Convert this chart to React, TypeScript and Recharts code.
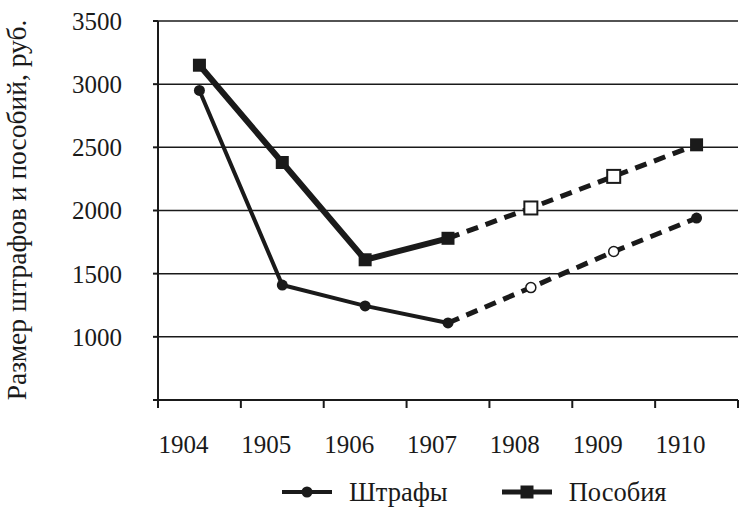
import { LineChart, Line, XAxis, YAxis, CartesianGrid, Label } from "recharts";

const years = ["1904", "1905", "1906", "1907", "1908", "1909", "1910"];
const fines = [2950, 1410, 1245, 1110, 1390, 1675, 1940];
const benefits = [3150, 2380, 1610, 1780, 2020, 2270, 2520];
// 1907 is the last reported year, later years are drawn dashed
const lastActual = 3;
const hollowPoint = [false, false, false, false, true, true, false];
const yTicks = [500, 1000, 1500, 2000, 2500, 3000, 3500];

const W = 740;
const H = 507;
const M = { top: 21, right: 2, left: 0, bottom: 47 };
const Y_W = 158;
const BAND = (W - M.left - M.right - Y_W) / years.length;
const INK = "#1a1a1a";
const FONT = "'Liberation Serif', 'Times New Roman', serif";

const data = years.map((year, i) => ({
  year,
  finesA: i <= lastActual ? fines[i] : null,
  finesB: i >= lastActual ? fines[i] : null,
  benA: i <= lastActual ? benefits[i] : null,
  benB: i >= lastActual ? benefits[i] : null,
}));

function marker(kind: "circle" | "square", cx: number, cy: number, hollow: boolean, key: string) {
  if (kind === "circle") {
    return hollow ? (
      <circle key={key} cx={cx} cy={cy} r={5} fill="#fff" stroke={INK} strokeWidth={1.5} />
    ) : (
      <circle key={key} cx={cx} cy={cy} r={5.5} fill={INK} />
    );
  }
  return hollow ? (
    <rect key={key} x={cx - 6.5} y={cy - 6.5} width={13} height={13} fill="#fff" stroke={INK} strokeWidth={2} />
  ) : (
    <rect key={key} x={cx - 6.5} y={cy - 6.5} width={13} height={13} fill={INK} />
  );
}

const dotFor = (kind: "circle" | "square", dashed: boolean) => (props: any) => {
  const { cx, cy, index, value } = props;
  const key = `${kind}-${dashed}-${index}`;
  if (value == null || cx == null || (dashed && index === lastActual)) return <g key={key} />;
  return marker(kind, cx, cy, hollowPoint[index], key);
};

const XTick = (props: any) => {
  const { x, y, payload, index } = props;
  const left = x - BAND / 2;
  return (
    <g>
      <line x1={left} y1={y - 8} x2={left} y2={y} stroke={INK} strokeWidth={2} />
      {index === years.length - 1 && (
        <line x1={left + BAND} y1={y - 8} x2={left + BAND} y2={y} stroke={INK} strokeWidth={2} />
      )}
      <text x={x - 16} y={y + 27} dy="0.71em" textAnchor="middle" fontSize={25} fill={INK} fontFamily={FONT}>
        {payload.value}
      </text>
    </g>
  );
};

function LegendItem({ kind, label }: { kind: "circle" | "square"; label: string }) {
  return (
    <div style={{ display: "flex", alignItems: "center" }}>
      <svg width={50} height={16} style={{ marginRight: 17 }}>
        <line x1={0} y1={8} x2={50} y2={8} stroke={INK} strokeWidth={kind === "circle" ? 4 : 5} />
        {marker(kind, 25, 8, false, "m")}
      </svg>
      <span>{label}</span>
    </div>
  );
}

export default function App() {
  return (
    <div style={{ position: "absolute", left: 0, top: 0, width: W, height: H, background: "#fff" }}>
      <LineChart width={W} height={H} data={data} margin={M}>
        <CartesianGrid horizontal vertical={false} stroke={INK} strokeWidth={1.5} />
        <XAxis
          dataKey="year"
          scale="band"
          height={60}
          axisLine={{ stroke: INK, strokeWidth: 2 }}
          tickLine={false}
          tick={<XTick />}
          interval={0}
        />
        <YAxis
          width={Y_W}
          domain={[500, 3500]}
          ticks={yTicks}
          interval={0}
          tickFormatter={(v: number) => (v === 500 ? "" : String(v))}
          axisLine={{ stroke: INK, strokeWidth: 2 }}
          tickLine={{ stroke: INK, strokeWidth: 2 }}
          tickSize={5}
          tickMargin={31}
          tick={{ fill: INK, fontSize: 25, fontFamily: FONT }}
        >
          <Label
            content={() => (
              <text
                x={0}
                y={0}
                transform="translate(26 210) rotate(-90)"
                textAnchor="middle"
                fontSize={27.5}
                fill={INK}
                fontFamily={FONT}
              >
                Размер штрафов и пособий, руб.
              </text>
            )}
          />
        </YAxis>
        <Line dataKey="finesB" stroke={INK} strokeWidth={5} strokeDasharray="12 8" dot={dotFor("circle", true)} activeDot={false} connectNulls={false} isAnimationActive={false} />
        <Line dataKey="benB" stroke={INK} strokeWidth={5} strokeDasharray="12 8" dot={dotFor("square", true)} activeDot={false} connectNulls={false} isAnimationActive={false} />
        <Line dataKey="finesA" stroke={INK} strokeWidth={4} dot={dotFor("circle", false)} activeDot={false} connectNulls={false} isAnimationActive={false} />
        <Line dataKey="benA" stroke={INK} strokeWidth={6} dot={dotFor("square", false)} activeDot={false} connectNulls={false} isAnimationActive={false} />
      </LineChart>
      <div
        style={{
          position: "absolute",
          top: 476,
          left: 282,
          display: "flex",
          gap: 54,
          fontFamily: FONT,
          fontSize: 26.5,
          color: INK,
          lineHeight: "32px",
        }}
      >
        <LegendItem kind="circle" label="Штрафы" />
        <LegendItem kind="square" label="Пособия" />
      </div>
    </div>
  );
}
